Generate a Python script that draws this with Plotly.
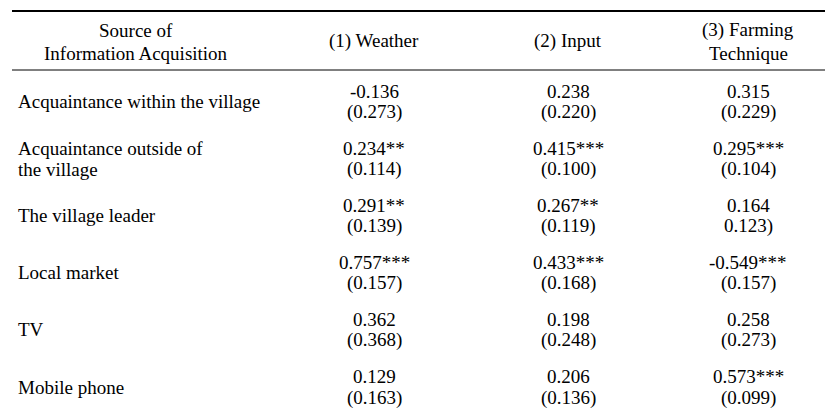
import plotly.graph_objects as go

header = [["Source of", "Information Acquisition"], ["(1) Weather"], ["(2) Input"], ["(3) Farming", "Technique"]]
sources = [["Acquaintance within the village"], ["Acquaintance outside of", "the village"], ["The village leader"],
           ["Local market"], ["TV"], ["Mobile phone"]]
weather = ["-0.136", "0.234**", "0.291**", "0.757***", "0.362", "0.129"]
weather_se = ["(0.273)", "(0.114)", "(0.139)", "(0.157)", "(0.368)", "(0.163)"]
inputs = ["0.238", "0.415***", "0.267**", "0.433***", "0.198", "0.206"]
inputs_se = ["(0.220)", "(0.100)", "(0.119)", "(0.168)", "(0.248)", "(0.136)"]
farming = ["0.315", "0.295***", "0.164", "-0.549***", "0.258", "0.573***"]
farming_se = ["(0.229)", "(0.104)", "0.123)", "(0.157)", "(0.273)", "(0.099)"]

W, H = 833, 414
F = dict(family="Times New Roman, Liberation Serif, serif", size=19, color="black")
fig = go.Figure()
anns = []
col_x = [128, 366, 560, 740]

def add(x, y, t, anchor="center"):
    anns.append(dict(x=x, y=y, text=t, showarrow=False, font=F, xanchor=anchor, yanchor="middle"))

for i, h in enumerate(header):
    if len(h) == 2:
        add(col_x[i], 22, h[0]); add(col_x[i], 45, h[1])
    else:
        add(col_x[i], 33, h[0])
row0, step, gap = 83, 57.1, 21
for r, s in enumerate(sources):
    yv = row0 + r * step
    ys = yv + gap
    if len(s) == 2:
        add(8, yv, s[0], "left"); add(8, ys, s[1], "left")
    else:
        add(8, (yv + ys) / 2, s[0], "left")
    for c, (v, se) in enumerate([(weather, weather_se), (inputs, inputs_se), (farming, farming_se)]):
        add(col_x[c + 1], yv, v[r]); add(col_x[c + 1], ys, se[r])
shapes = [
    dict(type="line", x0=4, x1=829, y0=3, y1=3, line=dict(color="black", width=2)),
    dict(type="line", x0=4, x1=829, y0=62, y1=62, line=dict(color="black", width=1)),
    dict(type="line", x0=4, x1=829, y0=408, y1=408, line=dict(color="black", width=2)),
]
fig.update_layout(width=W, height=H, margin=dict(l=0, r=0, t=0, b=0), paper_bgcolor="white",
                  plot_bgcolor="white", annotations=anns, shapes=shapes, showlegend=False,
                  xaxis=dict(range=[0, W], visible=False, fixedrange=True),
                  yaxis=dict(range=[H, 0], visible=False, fixedrange=True))
fig.write_html("out.html", config={"displayModeBar": False})
